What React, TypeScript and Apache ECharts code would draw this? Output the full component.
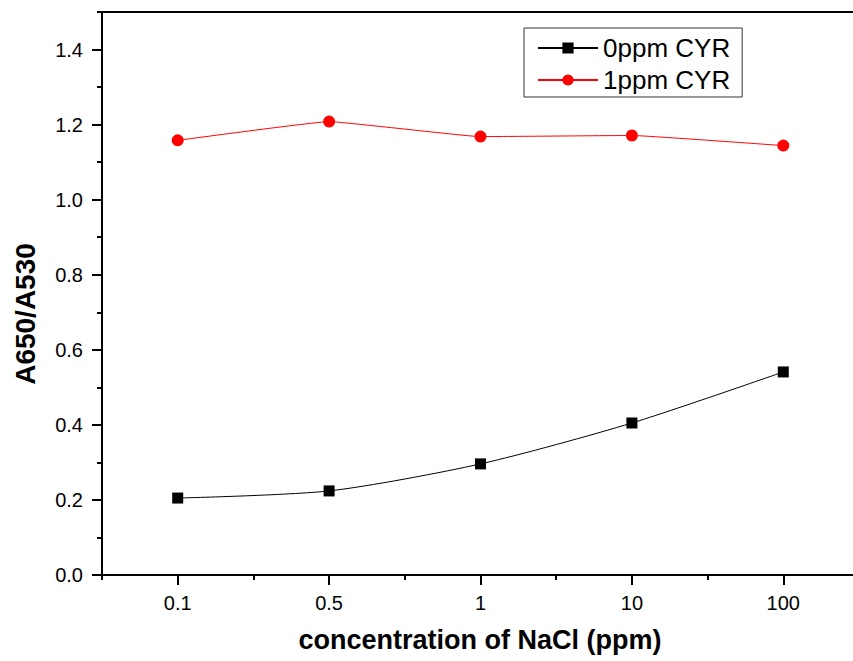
import React, { useEffect, useRef } from "react";
import * as echarts from "echarts";

const categories = ["0.1", "0.5", "1", "10", "100"];
const seriesNames = ["0ppm CYR", "1ppm CYR"];
const cyr0 = [0.205, 0.224, 0.296, 0.405, 0.541];
const cyr1 = [1.158, 1.208, 1.168, 1.171, 1.144];
const yMajorTicks = [0, 0.2, 0.4, 0.6, 0.8, 1.0, 1.2, 1.4];
const yMinorTicks = [0.1, 0.3, 0.5, 0.7, 0.9, 1.1, 1.3, 1.5];
const xMajorTicks = [0, 1, 2, 3, 4];
const xMinorTicks = [-0.5, 0.5, 1.5, 2.5, 3.5, 4.5];
const xTitle = "concentration of NaCl (ppm)";
const yTitle = "A650/A530";

const FONT = '"Liberation Sans", Arial, sans-serif';

export default function App() {
  const ref = useRef<HTMLDivElement>(null);
  useEffect(() => {
    if (!ref.current) return;
    const chart = echarts.init(ref.current, null, { renderer: "svg" });
    const axisLine = { show: true, onZero: false, lineStyle: { color: "#000", width: 2 } };
    chart.setOption({
      animation: false,
      backgroundColor: "#fff",
      textStyle: { fontFamily: FONT },
      grid: {
        left: 102,
        top: 12,
        width: 757,
        height: 563,
        outerBoundsMode: "none",
        containLabel: false,
        show: true,
        borderColor: "#000",
        borderWidth: 2,
        backgroundColor: "transparent",
      },
      legend: {
        orient: "vertical",
        left: 524,
        top: 28,
        padding: [7, 12, 4, 13],
        itemGap: 6,
        itemWidth: 60,
        itemHeight: 14,
        borderColor: "#333",
        borderWidth: 1,
        textStyle: { fontSize: 26, lineHeight: 26, color: "#000", fontFamily: FONT },
        data: seriesNames,
      },
      xAxis: [
        {
          type: "value",
          position: "bottom",
          min: -0.5,
          max: 4.5,
          axisLine,
          splitLine: { show: false },
          axisTick: {
            show: true,
            customValues: xMajorTicks,
            length: 10,
            lineStyle: { color: "#000", width: 2 },
          },
          axisLabel: {
            customValues: xMajorTicks,
            margin: 18,
            fontSize: 20,
            color: "#000",
            fontFamily: FONT,
            formatter: (v: number) => categories[Math.round(v)] ?? "",
          },
        },
        {
          type: "value",
          position: "bottom",
          min: -0.5,
          max: 4.5,
          axisLine: { show: false, onZero: false },
          splitLine: { show: false },
          axisTick: {
            show: true,
            customValues: xMinorTicks,
            length: 5,
            lineStyle: { color: "#000", width: 2 },
          },
          axisLabel: { show: false },
        },
      ],
      yAxis: [
        {
          type: "value",
          position: "left",
          min: 0,
          max: 1.5,
          axisLine,
          splitLine: { show: false },
          axisTick: {
            show: true,
            customValues: yMajorTicks,
            length: 10,
            lineStyle: { color: "#000", width: 2 },
          },
          axisLabel: {
            customValues: yMajorTicks,
            margin: 19,
            fontSize: 20,
            color: "#000",
            fontFamily: FONT,
            formatter: (v: number) => v.toFixed(1),
          },
        },
        {
          type: "value",
          position: "left",
          min: 0,
          max: 1.5,
          axisLine: { show: false, onZero: false },
          splitLine: { show: false },
          axisTick: {
            show: true,
            customValues: yMinorTicks,
            length: 5,
            lineStyle: { color: "#000", width: 2 },
          },
          axisLabel: { show: false },
        },
      ],
      graphic: [
        {
          type: "text",
          x: 480,
          y: 640,
          style: {
            text: xTitle,
            fontSize: 27,
            fontWeight: "bold",
            fontFamily: FONT,
            fill: "#000",
            textAlign: "center",
            textVerticalAlign: "middle",
          },
        },
        {
          type: "text",
          x: 25,
          y: 314,
          rotation: Math.PI / 2,
          style: {
            text: yTitle,
            fontSize: 28,
            fontWeight: "bold",
            fontFamily: FONT,
            fill: "#000",
            textAlign: "center",
            textVerticalAlign: "middle",
          },
        },
      ],
      series: [
        {
          name: seriesNames[0],
          type: "line",
          xAxisIndex: 0,
          yAxisIndex: 0,
          smooth: 0.25,
          symbol: "rect",
          symbolSize: 11,
          itemStyle: { color: "#000" },
          lineStyle: { color: "#000", width: 1 },
          data: cyr0.map((v, i) => [i, v]),
        },
        {
          name: seriesNames[1],
          type: "line",
          xAxisIndex: 0,
          yAxisIndex: 0,
          smooth: 0.08,
          symbol: "circle",
          symbolSize: 12,
          itemStyle: { color: "#ff0000" },
          lineStyle: { color: "#ff0000", width: 1 },
          data: cyr1.map((v, i) => [i, v]),
        },
      ],
    });
    return () => chart.dispose();
  }, []);
  return (
    <div
      ref={ref}
      style={{ position: "fixed", left: 0, top: 0, width: 853, height: 661 }}
    />
  );
}
